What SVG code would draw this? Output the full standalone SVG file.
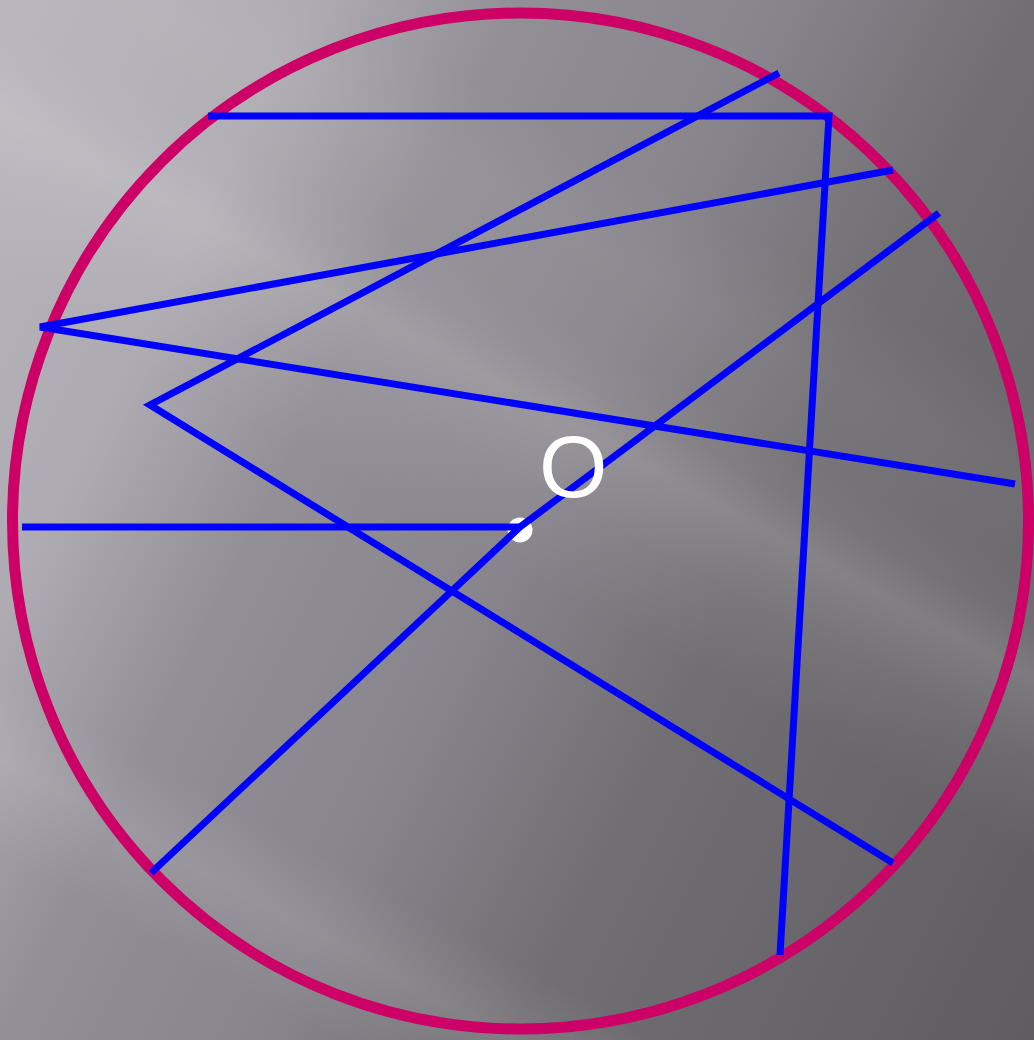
<svg xmlns="http://www.w3.org/2000/svg" width="1034" height="1040" viewBox="0 0 1034 1040">
  <defs>
    <linearGradient id="bgBase" gradientUnits="userSpaceOnUse" x1="0" y1="0" x2="1240" y2="620">
      <stop offset="0" stop-color="#b7b4bb"/>
      <stop offset="0.2" stop-color="#aeabb2"/>
      <stop offset="0.335" stop-color="#928f96"/>
      <stop offset="0.5" stop-color="#88858c"/>
      <stop offset="0.667" stop-color="#716f74"/>
      <stop offset="1" stop-color="#5f5d62"/>
    </linearGradient>
    <linearGradient id="bgBands" gradientUnits="userSpaceOnUse" x1="241" y1="-438" x2="-443" y2="806">
      <stop offset="0" stop-color="#ffffff" stop-opacity="0"/>
      <stop offset="0.24" stop-color="#ffffff" stop-opacity="0"/>
      <stop offset="0.30" stop-color="#ffffff" stop-opacity="0.05"/>
      <stop offset="0.36" stop-color="#ffffff" stop-opacity="0.04"/>
      <stop offset="0.39" stop-color="#ffffff" stop-opacity="0.07"/>
      <stop offset="0.42" stop-color="#ffffff" stop-opacity="0.15"/>
      <stop offset="0.47" stop-color="#ffffff" stop-opacity="0.06"/>
      <stop offset="0.53" stop-color="#ffffff" stop-opacity="0"/>
      <stop offset="0.77" stop-color="#ffffff" stop-opacity="0"/>
      <stop offset="0.82" stop-color="#ffffff" stop-opacity="0.1"/>
      <stop offset="0.88" stop-color="#ffffff" stop-opacity="0"/>
      <stop offset="1" stop-color="#ffffff" stop-opacity="0"/>
    </linearGradient>
  </defs>
  <style>
    .ring { fill: none; stroke: #cc0066; stroke-width: 11; }
    .chord { fill: none; stroke: #0000ff; stroke-width: 7; stroke-linejoin: miter; stroke-linecap: butt; }
    .label { font-family: "Liberation Sans", Arial, sans-serif; font-size: 88px; fill: #ffffff; }
  </style>
  <rect x="0" y="0" width="1034" height="1040" fill="url(#bgBase)"/>
  <rect x="0" y="0" width="1034" height="1040" fill="url(#bgBands)"/>

  <g id="circle">
    <circle class="ring" cx="520.5" cy="521" r="508"/>
  </g>

  <g id="center-dot">
    <circle cx="520" cy="530" r="12.5" fill="#ffffff"/>
  </g>

  <g id="connectors">
    <polyline class="chord" points="208,116 829,116 780,955"/>
    <polyline class="chord" points="779,73 150,405 893,863"/>
    <polyline class="chord" points="893,170 40,327 1015,484"/>
    <polyline class="chord" points="939,213 520,527 151,873"/>
    <line class="chord" x1="22" y1="527" x2="520" y2="527"/>
  </g>

  <g id="label-O">
    <text class="label" x="539" y="497">O</text>
  </g>
</svg>
